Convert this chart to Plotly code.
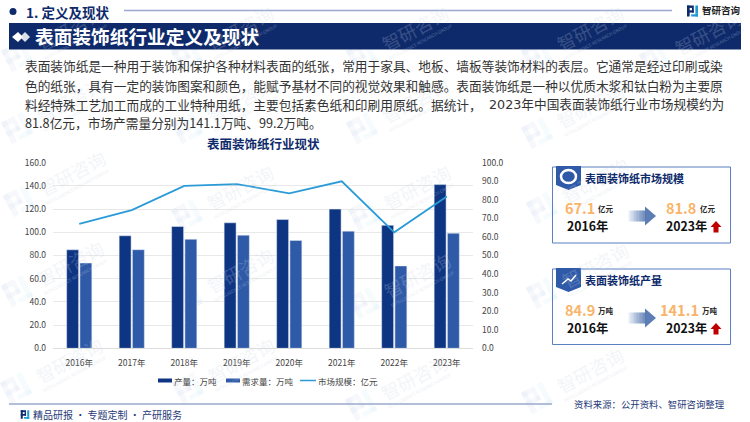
import math
import plotly.graph_objects as go

W = 750
H = 422
CJK = "Noto Sans CJK SC"
NAVY = "#0e2a6b"

# ======================
# DATA
# ======================
years = ["2016年", "2017年", "2018年", "2019年", "2020年", "2021年", "2022年", "2023年"]
output = [84.9, 97.0, 105.0, 108.2, 111.0, 120.0, 106.0, 141.1]
demand = [73.5, 85.0, 94.0, 97.5, 93.0, 101.0, 71.0, 99.2]
market = [67.1, 74.5, 87.5, 88.5, 83.5, 90.0, 62.5, 81.8]

left_ticks = [0, 20, 40, 60, 80, 100, 120, 140, 160]
right_ticks = [0, 10, 20, 30, 40, 50, 60, 70, 80, 90, 100]

body_lines = [
    "表面装饰纸是一种用于装饰和保护各种材料表面的纸张，常用于家具、地板、墙板等装饰材料的表层。它通常是经过印刷或染",
    "色的纸张，具有一定的装饰图案和颜色，能赋予基材不同的视觉效果和触感。表面装饰纸是一种以优质木浆和钛白粉为主要原",
    "料经特殊工艺加工而成的工业特种用纸，主要包括素色纸和印刷用原纸。据统计，",
    "81.8亿元，市场产需量分别为141.1万吨、99.2万吨。",
]
body_line3_end = "2023年中国表面装饰纸行业市场规模约为"

watermarks = [
    (70, 28), (240, 28), (415, 28), (590, 28), (708, 32),
    (70, 100), (240, 100), (415, 100), (590, 105),
    (72, 173), (240, 187), (417, 187), (595, 180),
    (70, 263), (240, 270), (417, 275), (595, 265),
    (69, 360), (241, 360), (414, 377), (590, 370),
]

shapes = []
notes = []


def px(x):
    return x / W


def py(y):
    return 1 - y / H


def text(x, y, s, size, color="#222222", bold=False, anchor="left", angle=0, opacity=1, family=CJK):
    notes.append(dict(
        x=px(x), y=py(y), xref="paper", yref="paper", text=f"<b>{s}</b>" if bold else s,
        showarrow=False, xanchor=anchor, yanchor="middle", textangle=angle, opacity=opacity,
        font=dict(family=family, size=size, color=color), borderpad=0, borderwidth=0,
    ))


def rect(x0, y0, x1, y1, fill="rgba(0,0,0,0)", line=None, lw=1, layer="above", opacity=1):
    shapes.append(dict(
        type="rect", xref="paper", yref="paper", x0=px(x0), x1=px(x1), y0=py(y0), y1=py(y1),
        fillcolor=fill, line=dict(color=line or "rgba(0,0,0,0)", width=lw if line else 0),
        layer=layer, opacity=opacity,
    ))


def poly(points, fill, opacity=1, layer="above"):
    # path shapes use paper coords too
    d = "M" + " L".join(f"{px(a):.5f},{py(b):.5f}" for a, b in points) + " Z"
    shapes.append(dict(type="path", xref="paper", yref="paper", path=d, fillcolor=fill,
                       line=dict(width=0), opacity=opacity, layer=layer))


def hline(x0, x1, y, color, width=1):
    shapes.append(dict(type="line", xref="paper", yref="paper", x0=px(x0), x1=px(x1), y0=py(y), y1=py(y),
                       line=dict(color=color, width=width), layer="above"))


def logo(cx, cy, size, c1, c2, angle=0, opacity=1, layer="above"):
    # the little bracket mark, built from bars
    a = math.radians(angle)
    bars = [
        (-0.5, -0.5, 0.12, -0.28, c1), (-0.5, -0.5, -0.26, 0.5, c1),
        (-0.5, -0.06, 0.12, 0.14, c1), (-0.05, -0.28, 0.12, 0.14, c1),
        (0.26, -0.5, 0.5, 0.2, c2), (-0.12, 0.3, 0.5, 0.5, c2), (0.26, 0.2, 0.5, 0.5, c2),
    ]
    for x0, y0, x1, y1, c in bars:
        pts = []
        for u, v in [(x0, y0), (x1, y0), (x1, y1), (x0, y1)]:
            pts.append((cx + size * (u * math.cos(a) + v * math.sin(a)),
                        cy + size * (-u * math.sin(a) + v * math.cos(a))))
        poly(pts, c, opacity, layer)


def fade_arrow(x0, x1, cy):
    # plotly shapes have no gradient, so the shaft is cut into slices
    head = x1 - 11
    steps = 14
    for i in range(steps):
        a = x0 + (head - x0) * i / steps
        b = x0 + (head - x0) * (i + 1) / steps + 0.3
        rect(a, cy - 5.5, b, cy + 5.5, fill="#3f67a8", opacity=0.06 + 0.7 * i / steps)
    poly([(head, cy - 9.5), (x1, cy), (head, cy + 9.5)], "#3f67a8", 0.85)


def up_arrow(cx, cy):
    poly([(cx, cy - 6), (cx + 5.5, cy), (cx + 2.5, cy), (cx + 2.5, cy + 5.5),
          (cx - 2.5, cy + 5.5), (cx - 2.5, cy), (cx - 5.5, cy)], "#c00000")


# ======================
# WATERMARK
# ======================
for wx, wy in watermarks:
    text(wx, wy, "智研咨询", 18, "#c9d4e4", angle=-28, anchor="center", opacity=0.22)
    text(wx + 5, wy + 14, "INTELLIGENCE RESEARCH GROUP", 4.5, "#c9d4e4", angle=-28, anchor="center", opacity=0.35)
    logo(wx - 53, wy + 28, 24, "#c6d6ea", "#c6e6f5", angle=28, opacity=0.16, layer="below")

# ======================
# HEADER
# ======================
shapes.append(dict(type="circle", xref="paper", yref="paper", x0=px(9.5), x1=px(16.5), y0=py(15), y1=py(8),
                   fillcolor=NAVY, line=dict(width=0)))
text(26, 11.5, "1. 定义及现状", 13.5, NAVY, bold=True)
hline(124, 672, 10.5, "#9aa9cd", 1.5)
logo(692.5, 11, 11, NAVY, "#1e9bd7")
text(702, 10.5, "智研咨询", 9.5, "#222222", bold=True)

rect(9, 23, 741, 49.5, fill="#0e2a6b")
poly([(12, 37), (18, 32), (23, 37), (18, 42)], "#ffffff")
poly([(20, 37), (25, 32), (30, 37), (25, 42)], "#ffffff", 0.85)
text(35, 35.5, "表面装饰纸行业定义及现状", 18.7, "#ffffff", bold=True)

for line_y, line in zip([66, 85, 104, 122.5], body_lines):
    text(25, line_y, line, 12.7, "#333333")
text(724, 104, body_line3_end, 12.7, "#333333", anchor="right", family=f"DejaVu Sans, {CJK}")

# ======================
# CHART TEXT + LEGEND
# ======================
text(263, 143, "表面装饰纸行业现状", 12.5, NAVY, bold=True, anchor="center")

rect(158, 378.5, 172, 382.5, fill="#0e3582")
text(174, 380.5, "产量：万吨", 8.5, "#444444")
rect(226, 378.5, 240, 382.5, fill="#2f5aa8")
text(242, 380.5, "需求量：万吨", 8.5, "#444444")
hline(300, 316, 380.5, "#2b9bd8", 1.5)
text(318, 380.5, "市场规模：亿元", 8.5, "#444444")


# ======================
# SIDE CARDS
# ======================
def card(top, bottom, title, first, last, unit, last_x):
    rect(552.5, top, 730.5, bottom, line="#5b7fbf", lw=1)
    poly([(556, top - 1), (581, top - 1), (581, top + 18), (568.5, top + 23), (556, top + 18)], "#2f5aa8")
    text(585, top + 11, title, 11, NAVY, bold=True)
    mid = top + 40
    low = top + 59
    text(565, mid, first, 14.5, "#f9b46a", bold=True)
    text(598, mid + 1, unit, 7.5, "#222222", bold=True)
    text(567, low, "2016年", 12.3, "#111111", bold=True)
    fade_arrow(628, 656, top + 49)
    text(last_x, mid, last, 14.5, "#f9b46a", bold=True)
    text(last_x + (34 if len(last) == 4 else 42), mid + 1, unit, 7.5, "#222222", bold=True)
    text(666, low, "2023年", 12.3, "#111111", bold=True)
    up_arrow(716, low + 1)


card(167, 243, "表面装饰纸市场规模", f"{market[0]}", f"{market[-1]}", "亿元", 666)
shapes.append(dict(type="circle", xref="paper", yref="paper", x0=px(561), x1=px(576), y0=py(183), y1=py(170),
                   fillcolor="#2f5aa8", line=dict(color="#ffffff", width=2.5)))
card(269, 344.5, "表面装饰纸产量", f"{output[0]}", f"{output[-1]}", "万吨", 660)
shapes.append(dict(type="path", xref="paper", yref="paper", line=dict(color="#ffffff", width=1.5),
                   path=f"M{px(562)},{py(284)} L{px(568)},{py(279)} L{px(571)},{py(281)} L{px(576)},{py(275)}"))

# ======================
# FOOTER
# ======================
hline(9, 552, 404, "#9aa9cd", 1.5)
logo(25, 414.5, 8.5, NAVY, "#1e9bd7")
text(33, 414.5, "精品研报 · 专题定制 · 产研服务", 10, "#1f3a78")
text(574, 403.5, "资料来源：公开资料、智研咨询整理", 9.4, "#1f3a78")

# ======================
# CHART
# ======================
fig = go.Figure()
fig.add_trace(go.Bar(x=years, y=output, name="产量：万吨", marker_color="#0e3582"))
fig.add_trace(go.Bar(x=years, y=demand, name="需求量：万吨", marker_color="#2f5aa8"))
fig.add_trace(go.Scatter(x=years, y=market, name="市场规模：亿元", mode="lines", yaxis="y2",
                         line=dict(color="#2b9bd8", width=1.8)))

# autoexpand off: the default template's automargin would squeeze the page coordinates
fig.update_layout(
    width=W, height=H, margin=dict(l=0, r=0, t=0, b=0, autoexpand=False), autosize=False,
    paper_bgcolor="#ffffff", plot_bgcolor="rgba(0,0,0,0)", showlegend=False,
    barmode="group", bargap=0.495, bargroupgap=0.1,
    font=dict(family=CJK, size=8.5, color="#444444"),
    shapes=shapes, annotations=notes,
    xaxis=dict(domain=[px(53), px(473)], showgrid=False, showline=True, linecolor="#dddddd",
               ticks="", ticklabelstandoff=6, tickfont=dict(size=8.5, color="#444444")),
    yaxis=dict(domain=[py(348.3), py(162.7)], range=[0, 160], tickvals=left_ticks, tickformat=".1f",
               gridcolor="#e8e8e8", gridwidth=1, zeroline=False, ticks="", ticklabelstandoff=6,
               tickfont=dict(size=8.5, color="#444444")),
    yaxis2=dict(overlaying="y", side="right", anchor="x", range=[0, 100], tickvals=right_ticks,
                tickformat=".1f", showgrid=False, zeroline=False, ticks="", ticklabelstandoff=8,
                tickfont=dict(size=8.5, color="#444444")),
)

fig.write_html("out.html", config=dict(displayModeBar=False),
               post_script="document.body.style.margin='0';document.body.style.overflow='hidden';")
